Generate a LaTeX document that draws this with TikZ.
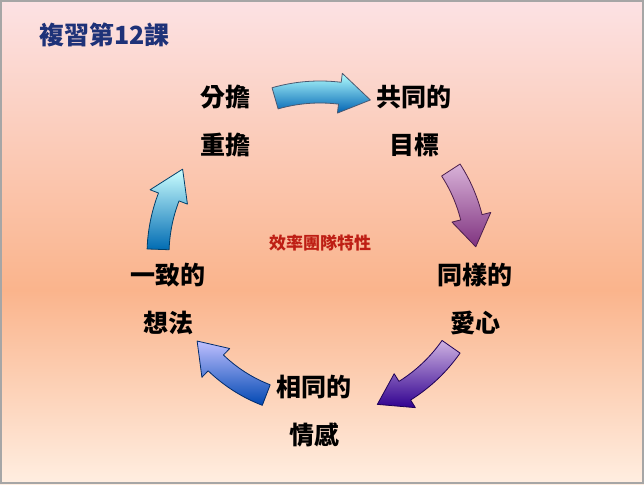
\documentclass[tikz,border=0pt]{standalone}
\usepackage{fontspec}
\setmainfont{Noto Sans CJK TC}
\begin{document}
\begin{tikzpicture}[x=1pt,y=1pt,
  lbl/.style={font=\fontsize{25}{48}\selectfont\bfseries, align=center, text=black},
  arr/.style={line width=0.8pt, line join=round}]
\useasboundingbox (0,0) rectangle (644,-484);
\shade[top color={rgb,255:red,252;green,226;blue,228}, bottom color={rgb,255:red,250;green,180;blue,140}] (0,0) rectangle (644,-290);
\shade[top color={rgb,255:red,250;green,180;blue,140}, bottom color={rgb,255:red,255;green,238;blue,225}] (0,-290) rectangle (644,-484);
\draw[gray!70, line width=2pt] (1,-1) rectangle (643,-483);
\node[anchor=west, text={rgb,255:red,30;green,50;blue,120}, font=\fontsize{25}{28}\selectfont\bfseries] (title) at (36,-35) {複習第12課};
\node[lbl] (a) at (225,-121) {分擔\\重擔};
\node[lbl] (b) at (414,-121) {共同的\\目標};
\node[lbl] (c) at (475,-299) {同樣的\\愛心};
\node[lbl] (d) at (314,-411) {相同的\\情感};
\node[lbl] (e) at (168,-299) {一致的\\想法};
\node[text={rgb,255:red,190;green,30;blue,20}, font=\fontsize{17}{20}\selectfont\bfseries] (m) at (320,-243) {效率團隊特性};
\newcommand{\barrow}[5]{% a1 a2 r fillL fillR
  \pgfmathsetmacro{\ah}{#2+11}
  \pgfmathsetmacro{\ro}{#3+11}\pgfmathsetmacro{\ri}{#3-11}
  \pgfmathsetmacro{\Ro}{#3+20}\pgfmathsetmacro{\Ri}{#3-20}
  \shade[arr, draw=#5!60!black, left color=#4, right color=#5, shading angle=0]
   (#1:\ro) arc[start angle=#1, end angle=\ah, radius=\ro]
   -- (\ah:\Ro) -- (#2:#3) -- (\ah:\Ri) -- (\ah:\ri)
   arc[start angle=\ah, end angle=#1, radius=\ri] -- cycle;}
\begin{scope}[shift={(320,-255)}]
\colorlet{tA}{cyan!30!white}\colorlet{tB}{cyan!55!blue!70!black}
\barrow{106}{72}{163}{tA}{tB}
\colorlet{pA}{violet!30!white}\colorlet{pB}{violet!60!gray}
\barrow{33}{3}{156}{pA}{pB}
\colorlet{qA}{blue!25!violet!30!white}\colorlet{qB}{blue!50!violet!75!black}
\barrow{-35}{-69}{160}{qA}{qB}
\colorlet{rA}{blue!25!white}\colorlet{rB}{blue!60!cyan!70!black}
\barrow{-111}{-145}{150}{rA}{rB}
\colorlet{sA}{cyan!20!white}\colorlet{sB}{blue!40!cyan!70!black}
\barrow{178}{148}{162}{sA}{sB}
\end{scope}
\end{tikzpicture}
\end{document}
